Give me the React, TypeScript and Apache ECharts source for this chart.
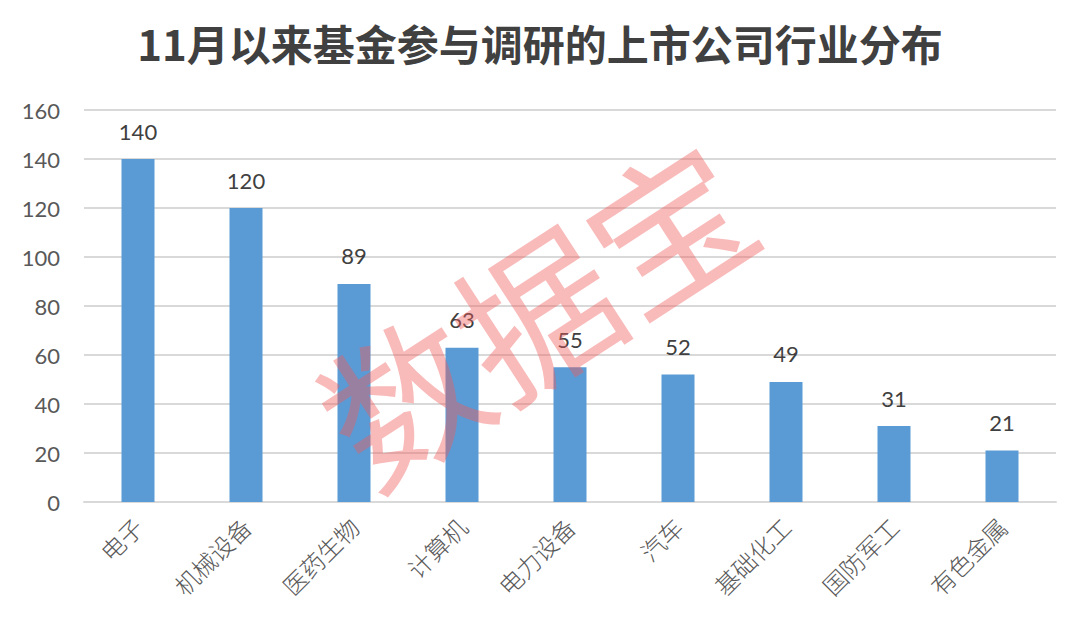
import React, { useEffect, useRef } from "react";
import * as echarts from "echarts";

const categories = ["电子", "机械设备", "医药生物", "计算机", "电力设备", "汽车", "基础化工", "国防军工", "有色金属"];
const values = [140, 120, 89, 63, 55, 52, 49, 31, 21];
const titleText = "11月以来基金参与调研的上市公司行业分布";
const watermark = "数据宝";

export default function App() {
  const ref = useRef<HTMLDivElement>(null);
  useEffect(() => {
    const chart = echarts.init(ref.current!, null, { renderer: "svg" });
    chart.setOption({
      animation: false,
      backgroundColor: "#ffffff",
      title: {
        text: titleText,
        left: "center",
        top: 16,
        textStyle: { fontSize: 42, fontWeight: "bold", color: "#404040", fontFamily: "Noto Sans CJK SC" },
      },
      grid: { left: 84, right: 24, top: 110, bottom: 128 },
      xAxis: {
        type: "category",
        data: categories,
        axisLine: { lineStyle: { color: "#d9d9d9", width: 2 } },
        axisTick: { show: false },
        axisLabel: {
          rotate: 45,
          fontSize: 24,
          color: "#595959",
          fontFamily: "Noto Sans CJK SC",
          fontWeight: 300,
          margin: 20,
          interval: 0,
        },
      },
      yAxis: {
        type: "value",
        min: 0,
        max: 160,
        interval: 20,
        axisLine: { show: false },
        axisTick: { show: false },
        splitLine: { lineStyle: { color: "#d9d9d9", width: 2 } },
        axisLabel: { fontSize: 22, color: "#595959", fontFamily: "Lato", margin: 24 },
      },
      series: [
        {
          type: "bar",
          data: values,
          barWidth: 33,
          itemStyle: { color: "#5b9bd5" },
          label: {
            show: true,
            position: "top",
            distance: 17,
            fontSize: 22,
            color: "#404040",
            fontFamily: "Lato",
          },
        },
      ],
      graphic: [
        {
          type: "text",
          x: 533,
          y: 308,
          rotation: (33 * Math.PI) / 180,
          z: 100,
          style: {
            text: watermark,
            fontSize: 158,
            fontFamily: "Noto Sans CJK SC",
            fontWeight: "normal",
            fill: "rgba(240, 90, 90, 0.42)",
            align: "center",
            verticalAlign: "middle",
          },
        },
      ],
    });
    return () => chart.dispose();
  }, []);
  return <div ref={ref} style={{ width: 1080, height: 630, position: "absolute", left: 0, top: 0 }} />;
}
